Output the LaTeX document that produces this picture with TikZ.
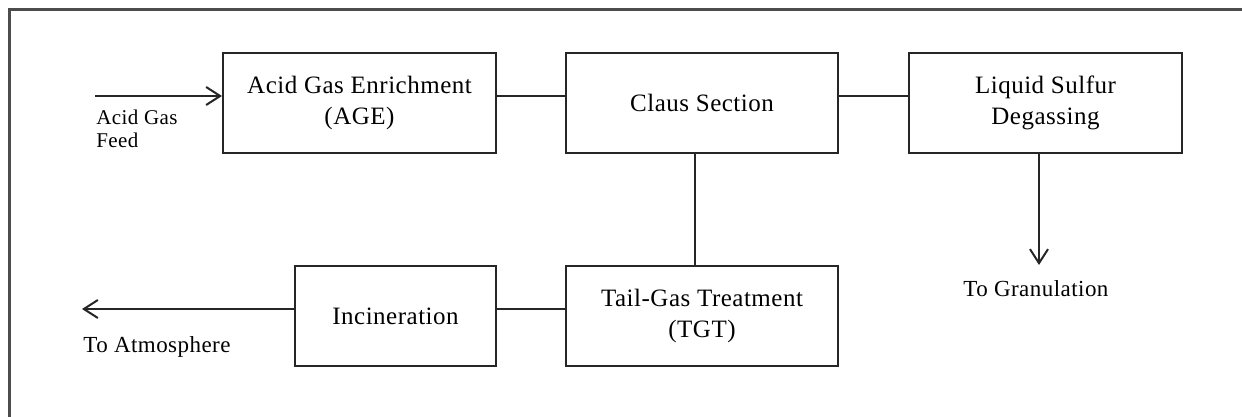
\documentclass[tikz,border=0pt]{standalone}
\usepackage{fontspec}
\setmainfont{Liberation Serif}[LetterSpace=2]
\usetikzlibrary{arrows.meta}
\tikzset{
  blk/.style={draw=black!85, line width=1pt, minimum height=50pt, inner sep=0pt,
    align=center, font=\fontsize{12.5}{15.5}\selectfont},
  conn/.style={draw=black!85, line width=1pt},
  flow/.style={conn, -{Straight Barb[length=7pt,width=9pt,line width=1pt]}},
  lbl/.style={inner sep=0pt, align=left, font=\fontsize{11.5}{11.5}\selectfont},
  frame/.style={draw=black!70, line width=1.5pt}
}
\begin{document}
\begin{tikzpicture}[x=0.5pt,y=-0.5pt]
\useasboundingbox (0,0) rectangle (1242,417);
\fill[white] (0,0) rectangle (1242,417);
\draw[frame] (9,440) -- (9,10) -- (1260,10);
% boxes
\node[blk, minimum width=136.5pt] (age) at (359.5,103) {Acid Gas Enrichment\\(AGE)};
\node[blk, minimum width=136pt] (claus) at (702,103) {Claus Section};
\node[blk, minimum width=136.5pt] (lsd) at (1045.5,103) {Liquid Sulfur\\Degassing};
\node[blk, minimum width=100.5pt] (inc) at (395.5,316) {Incineration};
\node[blk, minimum width=136pt] (tgt) at (702,316) {Tail-Gas Treatment\\(TGT)};
% free ends
\coordinate (feed) at (95,96);
\coordinate (atm) at (82,309);
\coordinate (gran) at (1039,265);
% labels
\node[lbl, anchor=west, font=\fontsize{10.5}{11.5}\selectfont] (lfeed) at (96,128.5) {Acid Gas\\Feed};
\node[lbl, anchor=west] (latm) at (83,347) {To Atmosphere};
\node[lbl, anchor=west] (lgran) at (963,289) {To Granulation};
% connectors
\draw[flow] (feed) -- ([yshift=3.5pt]age.west);
\draw[conn] ([yshift=3.5pt]age.east) -- ([yshift=3.5pt]claus.west);
\draw[conn] ([yshift=3.5pt]claus.east) -- ([yshift=3.5pt]lsd.west);
\draw[conn] ([xshift=-3.5pt]claus.south) -- ([xshift=-3.5pt]tgt.north);
\draw[flow] ([xshift=-3.25pt]lsd.south) -- (gran);
\draw[conn] ([yshift=3.5pt]tgt.west) -- ([yshift=3.5pt]inc.east);
\draw[flow] ([yshift=3.5pt]inc.west) -- (atm);
\end{tikzpicture}
\end{document}
